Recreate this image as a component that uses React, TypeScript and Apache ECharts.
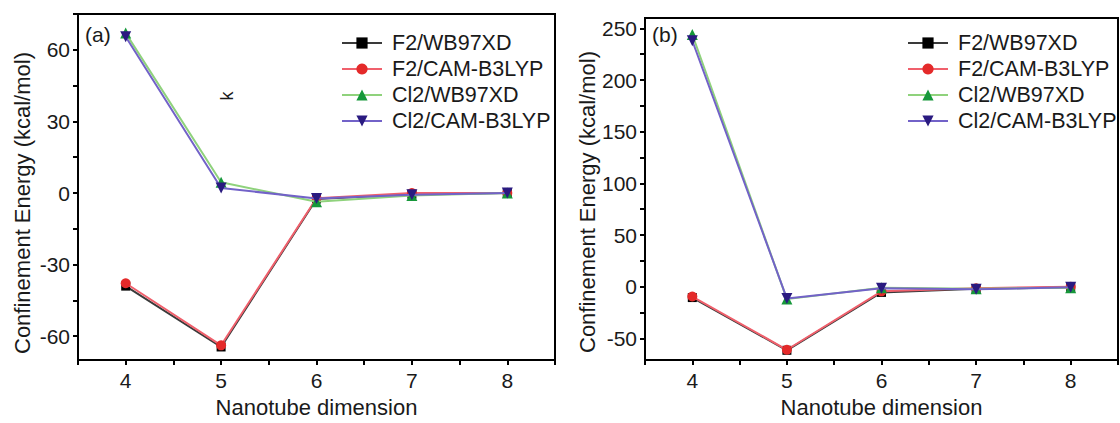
import React, { useEffect, useRef } from "react";
import * as echarts from "echarts";

const dims = [4, 5, 6, 7, 8];
const seriesNames = ["F2/WB97XD", "F2/CAM-B3LYP", "Cl2/WB97XD", "Cl2/CAM-B3LYP"];

// Panel (a)
const aF2WB = [-39, -64.5, -2.5, -0.5, 0];
const aF2CAM = [-37.8, -63.8, -2.2, 0, 0];
const aCl2WB = [67, 4.5, -3.7, -1, 0];
const aCl2CAM = [65.5, 2.1, -2.3, -0.7, 0];

// Panel (b)
const bF2WB = [-10.5, -61.5, -5.5, -2, -0.5];
const bF2CAM = [-9.5, -61, -4.5, -1.5, 0];
const bCl2WB = [244, -12, -1, -2, -1];
const bCl2CAM = [238, -11.5, -1.5, -2.5, -0.5];

const xTickLabels = [4, 5, 6, 7, 8];
const xTicks = [3.5, 4, 4.5, 5, 5.5, 6, 6.5, 7, 7.5, 8, 8.5];
const aYLabels = [-60, -30, 0, 30, 60];
const aYTicks = [-60, -45, -30, -15, 0, 15, 30, 45, 60, 75];
const bYLabels = [-50, 0, 50, 100, 150, 200, 250];
const bYTicks = [-50, -25, 0, 25, 50, 75, 100, 125, 150, 175, 200, 225, 250];

const FONT = "'Liberation Sans', Arial, sans-serif";
const TXT = "#1a1a1a";

const styles = [
  { line: "#3a3a3a", marker: "#000000", symbol: "rect", size: 9 },
  { line: "#f0606c", marker: "#e42a2a", symbol: "circle", size: 10 },
  { line: "#8fd27c", marker: "#16983a", symbol: "triangle", size: 11 },
  { line: "#7262c8", marker: "#2a1a80", symbol: "path://M0,0 L10,0 L5,9 Z", size: 11 },
];

function mkSeries(values: number[][], gridIdx: number) {
  return values.map((vals, i) => ({
    name: seriesNames[i],
    type: "line",
    xAxisIndex: gridIdx,
    yAxisIndex: gridIdx,
    data: dims.map((d, k) => [d, vals[k]]),
    symbol: styles[i].symbol,
    symbolSize: styles[i].size,
    lineStyle: { color: styles[i].line, width: 2 },
    itemStyle: { color: styles[i].marker },
    z: 2 + i,
  }));
}

function xAxis(gridIndex: number) {
  return {
    type: "value",
    gridIndex,
    min: 3.5,
    max: 8.5,
    name: "Nanotube dimension",
    nameLocation: "middle",
    nameGap: 33,
    nameTextStyle: { fontSize: 22, fontFamily: FONT, color: TXT },
    axisLine: { show: true, onZero: false, lineStyle: { color: "#000", width: 2 } },
    axisTick: { show: true, length: 5, lineStyle: { color: "#000", width: 2 }, customValues: xTicks },
    axisLabel: { fontSize: 21, fontFamily: FONT, color: TXT, margin: 10, customValues: xTickLabels },
    splitLine: { show: false },
  };
}

function yAxis(gridIndex: number, min: number, max: number, labels: number[], ticks: number[]) {
  return {
    type: "value",
    gridIndex,
    min,
    max,
    axisLine: { show: true, onZero: false, lineStyle: { color: "#000", width: 2 } },
    axisTick: { show: true, length: 5, lineStyle: { color: "#000", width: 2 }, customValues: ticks },
    axisLabel: { fontSize: 21, fontFamily: FONT, color: TXT, margin: 8, customValues: labels },
    splitLine: { show: false },
  };
}

function legend(left: number) {
  return {
    orient: "vertical",
    left,
    top: 32,
    padding: 0,
    itemWidth: 40,
    itemHeight: 14,
    itemGap: 4,
    data: seriesNames,
    textStyle: { fontSize: 21.5, fontFamily: FONT, color: TXT, padding: [0, 0, 0, 5] },
  };
}

function txt(x: number, y: number, text: string, rotation = 0, align = "left", size = 21) {
  return {
    type: "text",
    x,
    y,
    rotation,
    style: { text, font: `${size}px ${FONT}`, fill: TXT, align, verticalAlign: "middle" },
  };
}

export default function App() {
  const ref = useRef<HTMLDivElement>(null);
  useEffect(() => {
    if (!ref.current) return;
    const chart = echarts.init(ref.current, undefined, { renderer: "svg" });
    chart.setOption({
      animation: false,
      backgroundColor: "#ffffff",
      grid: [
        { left: 78, top: 14, width: 477, height: 354, show: true, borderColor: "#000", borderWidth: 2, backgroundColor: "transparent" },
        { left: 645, top: 18, width: 473, height: 350, show: true, borderColor: "#000", borderWidth: 2, backgroundColor: "transparent" },
      ],
      xAxis: [xAxis(0), xAxis(1)],
      yAxis: [yAxis(0, -70, 75, aYLabels, aYTicks), yAxis(1, -71, 260, bYLabels, bYTicks)],
      legend: [legend(341), legend(907)],
      graphic: [
        txt(22, 203, "Confinement Energy (kcal/mol)", Math.PI / 2, "center", 22),
        txt(587, 202, "Confinement Energy (kcal/mol)", Math.PI / 2, "center", 22),
        txt(85, 34, "(a)"),
        txt(652, 34, "(b)"),
        txt(227, 96, "k", Math.PI / 2, "center", 18),
      ],
      series: [
        ...mkSeries([aF2WB, aF2CAM, aCl2WB, aCl2CAM], 0),
        ...mkSeries([bF2WB, bF2CAM, bCl2WB, bCl2CAM], 1),
      ],
    });
    return () => chart.dispose();
  }, []);
  return (
    <div
      ref={ref}
      style={{ position: "absolute", left: 0, top: 0, width: 1120, height: 423 }}
    />
  );
}
